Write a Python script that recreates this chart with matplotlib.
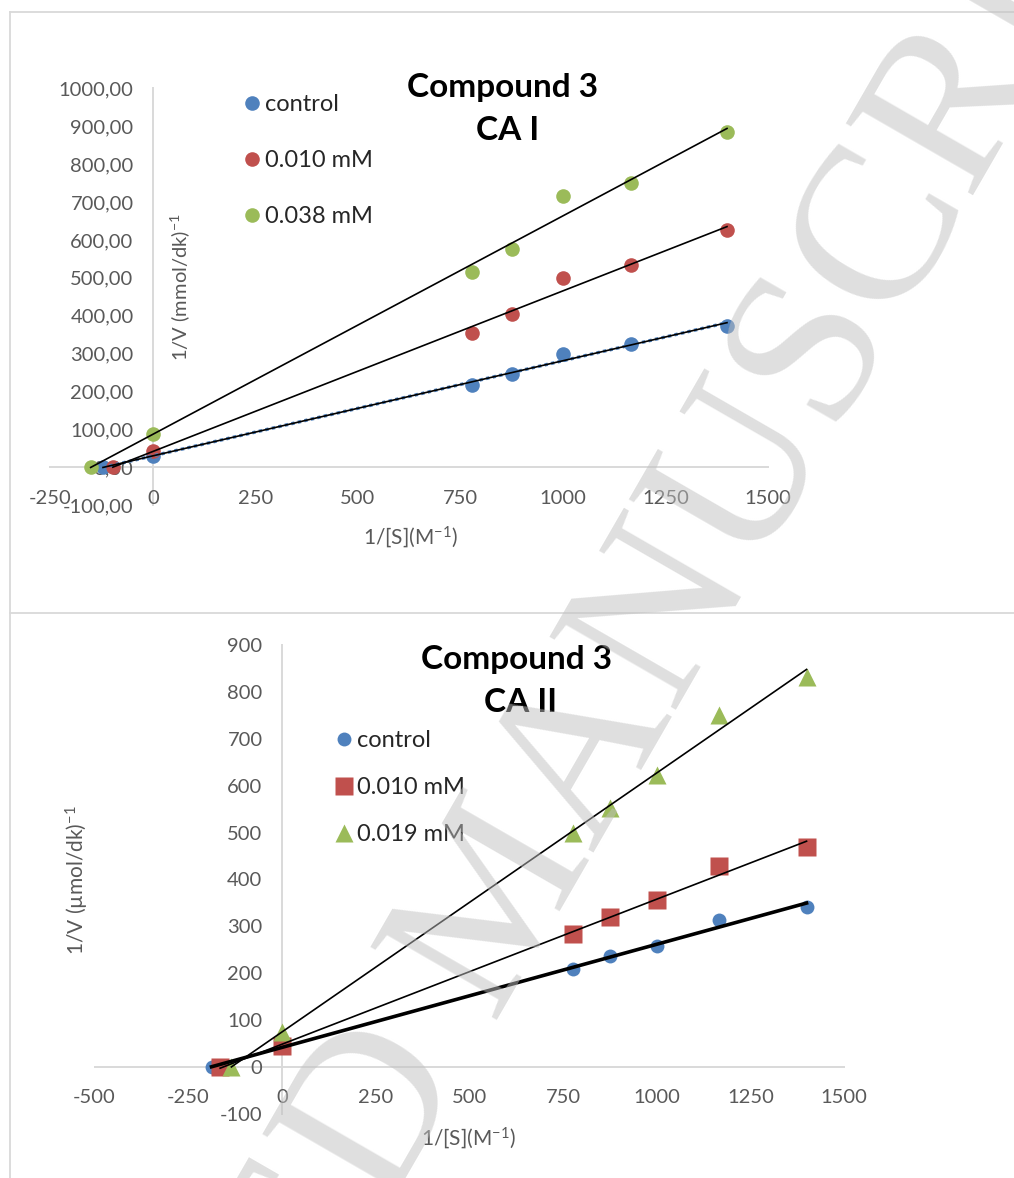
import numpy as np
import matplotlib
matplotlib.use('Agg')
import matplotlib.pyplot as plt
from matplotlib.lines import Line2D
from matplotlib.ticker import FuncFormatter

plt.rcParams['font.family'] = ['Lato', 'DejaVu Sans']
plt.rcParams['mathtext.fontset'] = 'custom'
plt.rcParams['mathtext.rm'] = 'Lato'
plt.rcParams['mathtext.it'] = 'Lato:italic'
plt.rcParams['mathtext.bf'] = 'Lato:bold'
plt.rcParams['axes.unicode_minus'] = False

W, H = 1014, 1178

# ---------------- data ----------------
inv_s = [777.8, 875.0, 1000.0, 1166.7, 1400.0]

# CA I
ca1_labels = ['control', '0.010 mM', '0.038 mM']
ca1_xint = [-122, -98, -152]
ca1_yint = [30, 43, 88]
ca1_control = [216, 245, 300, 326, 374]
ca1_010 = [355, 405, 499, 535, 626]
ca1_038 = [515, 577, 716, 750, 885]

# CA II
ca2_labels = ['control', '0.010 mM', '0.019 mM']
ca2_xint = [-188, -165, -135]
ca2_yint = [42, 45, 75]
ca2_control = [209, 236, 258, 313, 341]
ca2_010 = [284, 319, 357, 429, 469]
ca2_019 = [500, 552, 623, 750, 831]

ca1_xticks = [-250, 0, 250, 500, 750, 1000, 1250, 1500]
ca1_yticks = [-100, 0, 100, 200, 300, 400, 500, 600, 700, 800, 900, 1000]
ca2_xticks = [-500, -250, 0, 250, 500, 750, 1000, 1250, 1500]
ca2_yticks = [-100, 0, 100, 200, 300, 400, 500, 600, 700, 800, 900]

colors = ['#4F81BD', '#C0504D', '#9BBB59']
GRID = '#d9d9d9'
TICK = '#595959'

fig = plt.figure(figsize=(W / 100, H / 100), dpi=100)


def fx(px):
    return px / W


def fy(py):
    return 1 - py / H


# panel borders
for xs, ys in [([10, W], [12, 12]), ([10, 10], [12, H]), ([10, W], [613, 613])]:
    fig.add_artist(Line2D([fx(v) for v in xs], [fy(v) for v in ys],
                          transform=fig.transFigure, color=GRID, lw=1.3))


def style_axes(ax, xlim, ylim, xticks, yticks, fmt):
    ax.set_xlim(xlim)
    ax.set_ylim(ylim)
    for s in ['top', 'right']:
        ax.spines[s].set_visible(False)
    ax.spines['left'].set_position(('data', 0))
    ax.spines['bottom'].set_position(('data', 0))
    for s in ['left', 'bottom']:
        ax.spines[s].set_color(GRID)
        ax.spines[s].set_linewidth(1.4)
        ax.spines[s].set_zorder(0.5)
    ax.set_xticks(xticks)
    ax.set_yticks(yticks)
    ax.tick_params(length=0, labelsize=14.5, labelcolor=TICK)
    ax.tick_params(axis='y', pad=14)
    ax.tick_params(axis='x', pad=16)
    ax.yaxis.set_major_formatter(FuncFormatter(fmt))
    ax.patch.set_visible(False)


# ---------------- CA I ----------------
ax1 = fig.add_axes([fx(50.5), fy(505.2), fx(768 - 50.5), (505.2 - 88.3) / H])
style_axes(ax1, (-250, 1500), (-100, 1000), ca1_xticks, ca1_yticks,
           lambda v, p: f"{v:.2f}".replace('.', ','))

handles1 = []
for i, vals in enumerate([ca1_control, ca1_010, ca1_038]):
    x = np.array([ca1_xint[i], 0] + inv_s)
    y = np.array([0, ca1_yint[i]] + vals)
    k, b = np.polyfit(x, y, 1)
    xl = np.array([x.min(), x.max()])
    h, = ax1.plot(x, y, 'o', color=colors[i], ms=10.5, mec='none', zorder=3)
    handles1.append(h)
    if i == 0:
        ax1.plot(xl, k * xl + b, color=colors[0], lw=2.4, ls=(0, (1, 1)), zorder=3.5)
    ax1.plot(xl, k * xl + b, color='black', lw=1.2, zorder=4)

ax1.legend(handles1, ca1_labels, loc='upper left',
           bbox_to_anchor=(fx(246), fy(94)), bbox_transform=fig.transFigure,
           frameon=False, fontsize=17, handlelength=0.5, handletextpad=0.3,
           labelspacing=1.49, borderpad=0, borderaxespad=0, labelcolor='#262626')

fig.text(fx(503), fy(87), 'Compound 3', ha='center', va='center',
         fontsize=24, fontweight='bold', color='black')
fig.text(fx(508), fy(131), 'CA I', ha='center', va='center',
         fontsize=24, fontweight='bold', color='black')
fig.text(fx(180), fy(287), '1/V (mmol/dk)$^{\\mathregular{-1}}$', rotation=90,
         ha='center', va='center', fontsize=14.5, color=TICK)
fig.text(fx(410), fy(537), '1/[S](M$^{\\mathregular{-1}}$)', ha='center', va='center',
         fontsize=15, color=TICK)

# ---------------- CA II ----------------
ax2 = fig.add_axes([fx(94.6), fy(1113.9), fx(844 - 94.6), (1113.9 - 645) / H])
style_axes(ax2, (-500, 1500), (-100, 900), ca2_xticks, ca2_yticks,
           lambda v, p: f"{v:.0f}")

markers2 = ['o', 's', '^']
sizes2 = [10, 12.5, 13]
lws2 = [2.6, 1.2, 1.2]
handles2 = []
for i, vals in enumerate([ca2_control, ca2_010, ca2_019]):
    x = np.array([ca2_xint[i], 0] + inv_s)
    y = np.array([0, ca2_yint[i]] + vals)
    k, b = np.polyfit(x, y, 1)
    xl = np.array([x.min(), x.max()])
    h, = ax2.plot(x, y, markers2[i], color=colors[i], ms=sizes2[i], mec='none', zorder=3)
    handles2.append(h)
    ax2.plot(xl, k * xl + b, color='black', lw=lws2[i], zorder=4)

ax2.legend(handles2, ca2_labels, loc='upper left',
           bbox_to_anchor=(fx(338), fy(730)), bbox_transform=fig.transFigure,
           frameon=False, fontsize=17, handlelength=0.5, handletextpad=0.3,
           labelspacing=1.1, borderpad=0, borderaxespad=0, labelcolor='#262626')

fig.text(fx(517), fy(660), 'Compound 3', ha='center', va='center',
         fontsize=24, fontweight='bold', color='black')
fig.text(fx(521), fy(703), 'CA II', ha='center', va='center',
         fontsize=24, fontweight='bold', color='black')
fig.text(fx(77), fy(880), '1/V (\u00b5mol/dk)$^{\\mathregular{-1}}$', rotation=90,
         ha='center', va='center', fontsize=15, color=TICK)
fig.text(fx(468), fy(1138), '1/[S](M$^{\\mathregular{-1}}$)', ha='center', va='center',
         fontsize=15, color=TICK)

# watermark
fig.text(fx(505), fy(899), 'ACCEPTED MANUSCRIPT', rotation=60, rotation_mode='anchor',
         ha='center', va='center', fontsize=160, family='Liberation Serif',
         color='#c0c0c0', alpha=0.5, zorder=10)

fig.savefig('out.png', dpi=100)
